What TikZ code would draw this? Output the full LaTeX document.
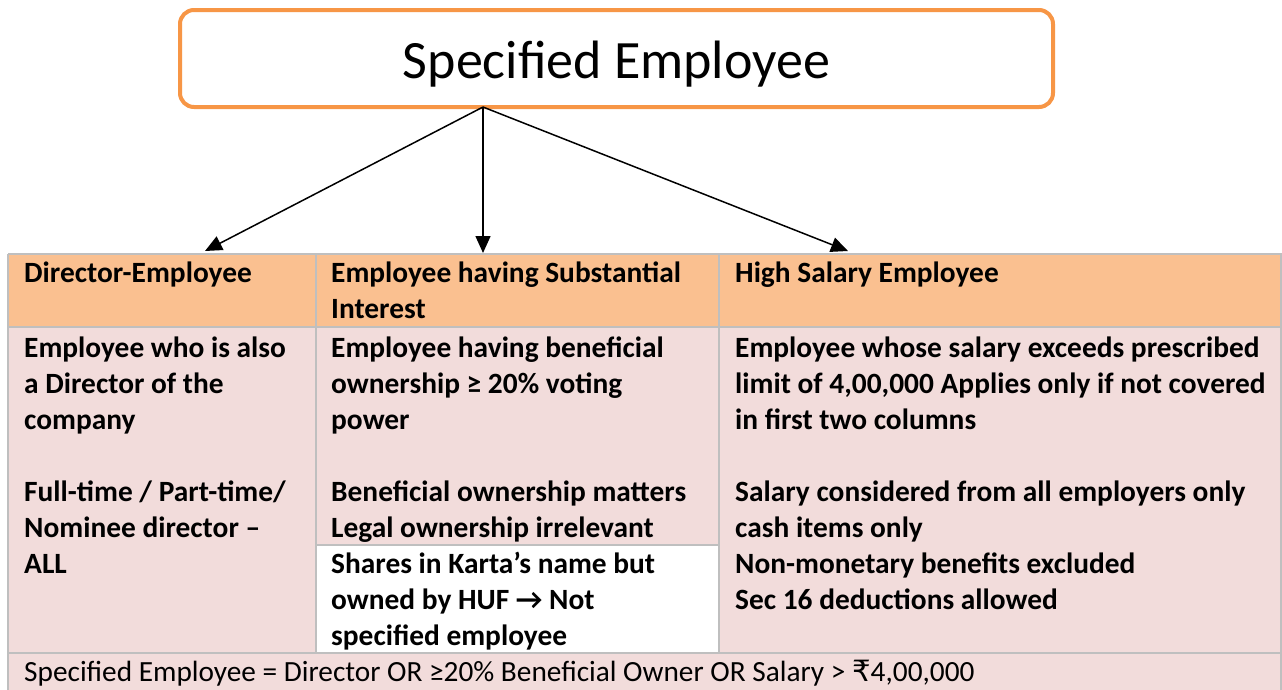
\documentclass[tikz,border=0pt]{standalone}
\usepackage{fontspec}
\setmainfont{Carlito}
\newfontfamily\symfnt{DejaVu Sans}
\usetikzlibrary{arrows.meta}
\definecolor{hdr}{HTML}{FAC090}
\definecolor{bdy}{HTML}{F2DCDB}
\definecolor{grd}{HTML}{BFBFBF}
\definecolor{org}{HTML}{F79646}
\tikzset{
  titlebox/.style={draw=org,line width=4pt,rounded corners=14pt,fill=white,minimum width=873pt,minimum height=97pt,inner sep=0pt,text height=45pt,text depth=6pt,font=\fontsize{54}{60}\selectfont},
  ln/.style={anchor=base west,inner sep=0pt,font=\bfseries\fontsize{29.4}{36}\selectfont},
  lnr/.style={anchor=base west,inner sep=0pt,font=\fontsize{29.3}{36}\selectfont},
  conn/.style={line width=1.5pt,-{Triangle[length=17pt,width=15pt]}},
  grid/.style={draw=grd,line width=2pt}
}
\begin{document}
\begin{tikzpicture}[x=1pt,y=-1pt]
\useasboundingbox (0,0) rectangle (1282,689);
% table fills
\fill[hdr] (8,254) rectangle (1281,327);
\fill[bdy] (8,327) rectangle (1281,653);
\fill[white] (316,545) rectangle (719,653);
\fill[bdy] (8,653) rectangle (1290,700);
% grid
\draw[grid] (8,254) -- (1290,254);
\draw[grid] (8,327) -- (1290,327);
\draw[grid] (8,653) -- (1290,653);
\draw[grid] (316,545) -- (719,545);
\draw[grid] (8,254) -- (8,700);
\draw[grid] (316,254) -- (316,653);
\draw[grid] (719,254) -- (719,653);
\draw[grid] (1281,254) -- (1281,700);
% title
\node[titlebox] (title) at (616.5,58.5) {Specified Employee};
\coordinate (src) at (483,107);
\coordinate (t1) at (205,251);
\coordinate (t2) at (483,253);
\coordinate (t3) at (848,251);
\draw[conn] (src) -- (t1);
\draw[conn] (src) -- (t2);
\draw[conn] (src) -- (t3);
% headers
\node[ln] (h1) at (24,282) {Director-Employee};
\node[ln] (h2a) at (331,282) {Employee having Substantial};
\node[ln] (h2b) at (331,318) {Interest};
\node[ln] (h3) at (735,282) {High Salary Employee};
% column 1
\node[ln] (a1) at (24,357) {Employee who is also};
\node[ln] (a2) at (24,393) {a Director of the};
\node[ln] (a3) at (24,429) {company};
\node[ln] (a4) at (24,501) {Full-time / Part-time/};
\node[ln] (a5) at (24,537) {Nominee director –};
\node[ln] (a6) at (24,573) {ALL};
% column 2
\node[ln] (b1) at (331,357) {Employee having beneficial};
\node[ln] (b2) at (331,393) {ownership ≥ 20\% voting};
\node[ln] (b3) at (331,429) {power};
\node[ln] (b4) at (331,501) {Beneficial ownership matters};
\node[ln] (b5) at (331,537) {Legal ownership irrelevant};
\node[ln] (b6) at (331,573) {Shares in Karta’s name but};
\node[ln] (b7) at (331,609) {owned by HUF → Not};
\node[ln] (b8) at (331,645) {specified employee};
% column 3
\node[ln] (c1) at (735,357) {Employee whose salary exceeds prescribed};
\node[ln] (c2) at (735,393) {limit of 4,00,000 Applies only if not covered};
\node[ln] (c3) at (735,429) {in first two columns};
\node[ln] (c4) at (735,501) {Salary considered from all employers only};
\node[ln] (c5) at (735,537) {cash items only};
\node[ln] (c6) at (735,573) {Non-monetary benefits excluded};
\node[ln] (c7) at (735,609) {Sec 16 deductions allowed};
% bottom row
\node[lnr] (foot) at (24,681) {Specified Employee = Director OR ≥20\% Beneficial Owner OR Salary > {\symfnt ₹}4,00,000};
\end{tikzpicture}
\end{document}
